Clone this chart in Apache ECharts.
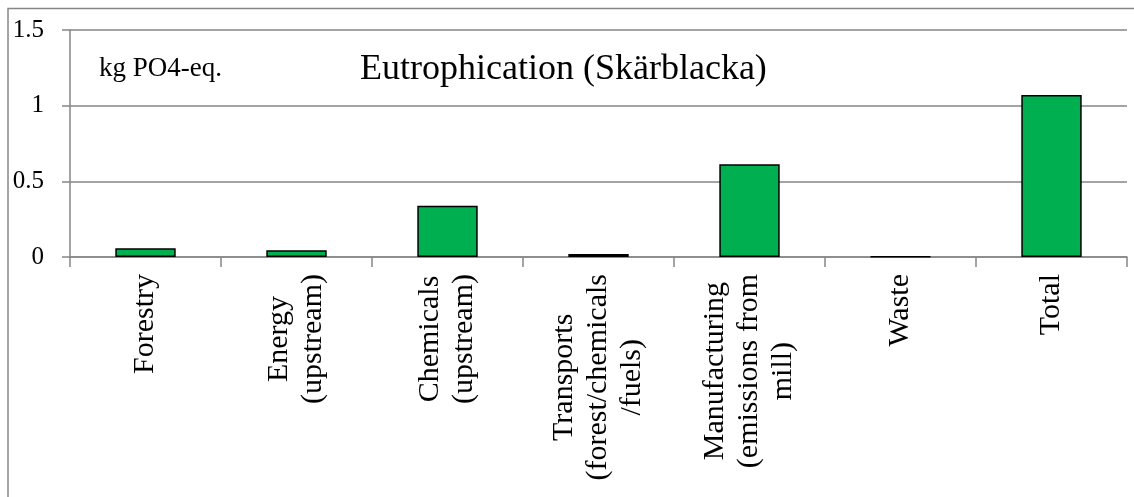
<!DOCTYPE html>
<html>
<head>
<meta charset="utf-8">
<script src="https://cdn.jsdelivr.net/npm/echarts@6/dist/echarts.min.js"></script>
<style>
html,body{margin:0;padding:0;background:#fff;}
#chart{width:1134px;height:497px;}
</style>
</head>
<body>
<div id="chart"></div>
<script>
const categories = [
  "Forestry",
  "Energy\n(upstream)",
  "Chemicals\n(upstream)",
  "Transports\n(forest/chemicals\n/fuels)",
  "Manufacturing\n(emissions from\nmill)",
  "Waste",
  "Total"
];
const values = [0.057, 0.044, 0.339, 0.02, 0.613, 0.003, 1.071];
const yTicks = { min: 0, max: 1.5, interval: 0.5 };
const chartTitle = "Eutrophication (Skärblacka)";
const unitLabel = "kg PO4-eq.";

const serif = '"Liberation Serif", "DejaVu Serif", serif';
const grey = '#868686';

const chart = echarts.init(document.getElementById('chart'));
chart.setOption({
  animation: false,
  backgroundColor: '#fff',
  graphic: [{
    type: 'rect',
    shape: { x: 8, y: 8.5, width: 1300, height: 700 },
    style: { fill: 'none', stroke: grey, lineWidth: 1.5 },
    silent: true
  }],
  title: [{
    text: chartTitle,
    left: 355,
    top: 47,
    textStyle: { fontFamily: serif, fontWeight: 'normal', fontSize: 36, color: '#000' }
  }, {
    text: unitLabel,
    left: 94,
    top: 50,
    textStyle: { fontFamily: serif, fontWeight: 'normal', fontSize: 27, color: '#000' }
  }],
  grid: { left: 70, right: 7, top: 30, bottom: 240, containLabel: false },
  xAxis: {
    type: 'category',
    data: categories,
    axisLine: { show: true, lineStyle: { color: grey, width: 1.5 } },
    axisTick: { show: true, length: 10, lineStyle: { color: grey, width: 1.5 } },
    axisLabel: {
      rotate: 90,
      margin: 17,
      interval: 0,
      fontFamily: serif,
      fontSize: 30,
      color: '#000',
      lineHeight: 34,
      formatter: function (v) {
        return v.split('\n').map(function (s) { return '{c|' + s + '}'; }).join('\n');
      },
      rich: { c: { align: 'center', fontFamily: serif, fontSize: 30, color: '#000', lineHeight: 34 } }
    }
  },
  yAxis: {
    type: 'value',
    min: yTicks.min,
    max: yTicks.max,
    interval: yTicks.interval,
    axisLine: { show: true, lineStyle: { color: grey, width: 1.5 } },
    axisTick: { show: true, length: 8, lineStyle: { color: grey, width: 1.5 } },
    splitLine: { show: true, lineStyle: { color: grey, width: 1.5 } },
    axisLabel: { fontFamily: serif, fontSize: 25, color: '#000', margin: 26 }
  },
  series: [{
    type: 'bar',
    data: values,
    barCategoryGap: '60%',
    itemStyle: { color: '#00B050', borderColor: '#000', borderWidth: 1.5 }
  }]
});
</script>
</body>
</html>
